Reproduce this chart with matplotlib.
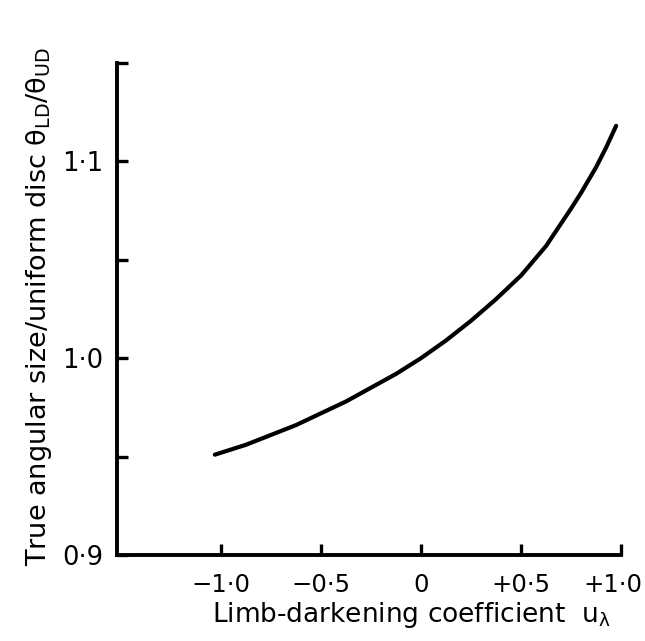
import matplotlib
matplotlib.use("Agg")
import matplotlib.pyplot as plt
import matplotlib.transforms as mtransforms

# limb-darkening coefficient vs ratio
u_lambda = [-1.03, -0.875, -0.75, -0.625, -0.5, -0.375, -0.25, -0.125, 0.0,
            0.125, 0.25, 0.375, 0.5, 0.625, 0.75, 0.8, 0.875, 0.925, 0.975]
ratio = [0.951, 0.956, 0.961, 0.966, 0.972, 0.978, 0.985, 0.992, 1.0,
         1.009, 1.019, 1.030, 1.042, 1.057, 1.076, 1.084, 1.097, 1.107, 1.118]

x_ticks = [-1.0, -0.5, 0.0, 0.5, 1.0]
x_tick_labels = ["\u22121\u00b70", "\u22120\u00b75", "0", "+0\u00b75", "+1\u00b70"]
y_ticks = [0.9, 0.95, 1.0, 1.05, 1.1, 1.15]
y_tick_labels = ["0\u00b79", "", "1\u00b70", "", "1\u00b71", ""]

plt.rcParams["font.family"] = ["DejaVu Sans"]
plt.rcParams["mathtext.default"] = "regular"

fig = plt.figure(figsize=(6.45, 6.41), dpi=100)
ax = fig.add_axes([0.181, 0.134, 0.782, 0.768])

ax.plot(u_lambda, ratio, color="black", lw=3.0, solid_capstyle="round")

ax.set_xlim(-1.52, 1.0)
ax.set_ylim(0.9, 1.15)
for side in ["top", "right"]:
    ax.spines[side].set_visible(False)
for side in ["left", "bottom"]:
    ax.spines[side].set_linewidth(2.8)

ax.set_xticks(x_ticks)
ax.set_xticklabels(x_tick_labels)
ax.set_yticks(y_ticks)
ax.set_yticklabels(y_tick_labels)
ax.tick_params(direction="in", length=8, width=2.4)
ax.tick_params(axis="x", pad=13, labelsize=17.5)
ax.tick_params(axis="y", pad=10, labelsize=18.5)

# the last x label sits a little left of its tick in the original
last = ax.get_xticklabels()[-1]
last.set_transform(last.get_transform() +
                   mtransforms.ScaledTranslation(-8 / 100, 0, fig.dpi_scale_trans))

ax.set_xlabel(r"Limb-darkening coefficient  $u_\lambda$", fontsize=19)
ax.set_ylabel(r"True angular size/uniform disc $\theta_{LD}/\theta_{UD}$", fontsize=19.5)
ax.xaxis.set_label_coords(0.585, -0.092)
ax.yaxis.set_label_coords(-0.124, 0.505)

fig.savefig("out.png", dpi=100)
